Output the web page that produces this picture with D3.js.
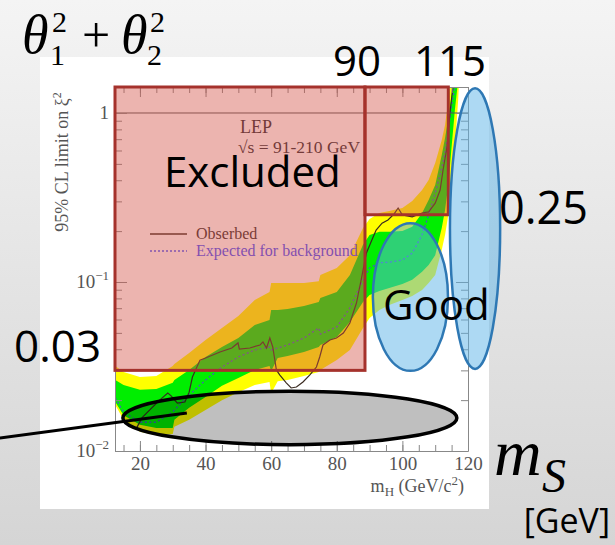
<!DOCTYPE html>
<html>
<head>
<meta charset="utf-8">
<script src="https://cdn.jsdelivr.net/npm/d3@7"></script>
<style>
body{margin:0;}
svg{display:block;}
</style>
</head>
<body>
<svg width="615" height="545"></svg>
<script>
// mass grid of the expected bands (GeV/c2)
var mass      = [12.5, 15, 20, 25, 30, 30.5, 35, 40, 45, 50, 55, 59.5, 60, 62, 65, 70, 74.5, 75, 80, 84, 88, 90, 93, 96, 100, 103, 106, 108, 110, 112, 113, 114, 115, 116, 117, 118];
// 95% CL limits on xi^2
var yellowHi  = [0.0318, 0.0293, 0.0274, 0.0278, 0.0318, 0.0327, 0.0380, 0.0454, 0.0535, 0.0629, 0.0782, 0.0873, 0.0986, 0.0986, 0.0986, 0.0986, 0.101, 0.110, 0.121, 0.144, 0.209, 0.236, 0.256, 0.263, 0.274, 0.301, 0.350, 0.401, 0.506, 0.692, 0.849, 1.19, 2.0, 2.5, 3, 3];
var greenHi   = [0.0263, 0.0246, 0.0230, 0.0233, 0.0253, 0.0263, 0.0301, 0.0360, 0.0412, 0.0466, 0.0557, 0.0596, 0.0683, 0.0683, 0.0692, 0.0721, 0.0762, 0.0804, 0.0873, 0.110, 0.166, 0.190, 0.198, 0.198, 0.200, 0.212, 0.256, 0.306, 0.375, 0.564, 0.711, 0.933, 1.279, 1.80, 2.5, 3];
var expected  = [0.0206, 0.0170, 0.0148, 0.0148, 0.0170, 0.0175, 0.0214, 0.0263, 0.0314, 0.0360, 0.0396, 0.0412, 0.0396, 0.0407, 0.0424, 0.0466, 0.0535, 0.0492, 0.0542, 0.0702, 0.103, 0.121, 0.130, 0.131, 0.135, 0.148, 0.190, 0.249, 0.336, 0.473, 0.580, 0.793, 1.114, 1.425, 2.5, 3];
var greenLo   = [0.0195, 0.0163, 0.0143, 0.0137, 0.0137, 0.0153, 0.0180, 0.0209, 0.0243, 0.0270, 0.0301, 0.0318, 0.0297, 0.0355, 0.0365, 0.0385, 0.0412, 0.0424, 0.0473, 0.0580, 0.0762, 0.0838, 0.0885, 0.0921, 0.0973, 0.103, 0.115, 0.126, 0.144, 0.209, 0.267, 0.375, 0.629, 1.04, 1.57, 3];
var yellowLo  = [0.0187, 0.0153, 0.0130, 0.0124, 0.0126, 0.0139, 0.0153, 0.0175, 0.0200, 0.0223, 0.0246, 0.0256, 0.0220, 0.0259, 0.0263, 0.0278, 0.0293, 0.0301, 0.0345, 0.0396, 0.0535, 0.0612, 0.0683, 0.0731, 0.0782, 0.0826, 0.0897, 0.0986, 0.110, 0.155, 0.190, 0.249, 0.401, 0.629, 1.19, 3];

// observed limit
var obsMass  = [19, 20.6, 23, 26, 28.5, 29.5, 31.4, 33.7, 35, 36, 38.3, 40, 44.4, 48, 49.9, 50.3, 53.5, 56.6, 57.5, 58.6, 59.6, 60.5, 61.6, 62.6, 64.6, 66.1, 67.7, 69.7, 71.8, 73.8, 74.8, 75.8, 77.9, 79.9, 82, 84, 86, 87.6, 89, 90.7, 92, 93.8, 95.6, 97.5, 98.7, 100, 103, 106, 108, 110, 111.5, 112.4, 113.6, 114.5, 115.4, 116];
var observed = [0.0137, 0.0157, 0.0175, 0.0200, 0.0220, 0.0212, 0.0192, 0.0195, 0.0223, 0.0274, 0.0345, 0.0355, 0.0385, 0.0407, 0.0436, 0.0401, 0.0407, 0.0424, 0.0442, 0.0407, 0.0466, 0.0412, 0.0301, 0.0282, 0.0253, 0.0236, 0.0239, 0.0256, 0.0282, 0.0314, 0.0360, 0.0424, 0.0454, 0.0466, 0.0499, 0.0572, 0.0751, 0.107, 0.148, 0.177, 0.203, 0.223, 0.233, 0.253, 0.274, 0.249, 0.243, 0.256, 0.260, 0.293, 0.350, 0.460, 0.629, 1.0, 1.425, 2.0];

// ticks
var xLabels = [20, 40, 60, 80, 100, 120];
var xMinor  = d3.range(15, 121, 5);
var yLabels = [1, 0.1, 0.01];
var yLabelText = [["1", ""], ["10", "\u22121"], ["10", "\u22122"]];

// excluded regions (from mass, to mass, limit)
var boxFrom  = [12.4, 88.6];
var boxTo    = [88.6, 114];
var boxLimit = [0.03, 0.25];

// annotation ellipses, given by their mass and xi^2 extents
var ellMassLo = [91, 114.5];
var ellMassHi = [113.9, 129.8];
var ellXiLo   = [0.0298, 0.0306];
var ellXiHi   = [0.223, 1.40];
var grayMass  = [14.8, 116.6];
var grayXi    = [0.0109, 0.0226];
var pointerMass = [-22.7, 34.3];
var pointerXi   = [0.01194, 0.0168];

var svg = d3.select('svg');

// slide background
var defs = svg.append('defs');
var grad = defs.append('linearGradient').attr('id', 'bg')
	.attr('x1', 0).attr('y1', 0).attr('x2', 0).attr('y2', 1);
grad.append('stop').attr('offset', '0%').attr('stop-color', '#f4f4f4');
grad.append('stop').attr('offset', '100%').attr('stop-color', '#d5d5d5');
svg.append('rect').attr('width', 615).attr('height', 545).attr('fill', 'url(#bg)');

// white picture of the plot
svg.append('rect').attr('x', 40).attr('y', 57).attr('width', 449).attr('height', 452).attr('fill', '#fff');

var x = d3.scaleLinear().domain([12.4, 120]).range([115, 468]);
var y = d3.scaleLog().domain([0.01, 1.425]).range([451, 87]);

defs.append('clipPath').attr('id', 'plotclip')
	.append('rect').attr('x', 115).attr('y', 87).attr('width', 353).attr('height', 364);

var plot = svg.append('g').attr('clip-path', 'url(#plotclip)');

function band(lo, hi){
	return d3.area()
		.x(function(d, i){ return x(mass[i]); })
		.y0(function(d, i){ return y(lo[i]); })
		.y1(function(d, i){ return y(hi[i]); });
}

plot.append('path').datum(mass).attr('d', band(yellowLo, yellowHi)).attr('fill', '#ffff00');
plot.append('path').datum(mass).attr('d', band(greenLo, greenHi)).attr('fill', '#00ee00');

plot.append('path').datum(mass)
	.attr('d', d3.line().x(function(d, i){ return x(mass[i]); }).y(function(d, i){ return y(expected[i]); }))
	.attr('fill', 'none').attr('stroke', '#4658c0').attr('stroke-width', 1.3)
	.attr('stroke-dasharray', '2,2.5');

plot.append('path').datum(obsMass)
	.attr('d', d3.line().x(function(d, i){ return x(obsMass[i]); }).y(function(d, i){ return y(observed[i]); }))
	.attr('fill', 'none').attr('stroke', '#3a2a20').attr('stroke-width', 1.2);

// xi^2 = 1 line
plot.append('line')
	.attr('x1', x(12.4)).attr('x2', x(120)).attr('y1', y(1)).attr('y2', y(1))
	.attr('stroke', '#555').attr('stroke-width', 1);

// axes
var yMinor = [];
[0.01, 0.1, 1].forEach(function(p){
	for (var k = 1; k < 10; k++){ if (p * k <= 1.425) yMinor.push(p * k); }
});

var axisColor = '#888';
svg.append('g').attr('transform', 'translate(0,451)').attr('color', axisColor)
	.call(d3.axisBottom(x).tickValues(xMinor).tickSize(-6).tickSizeOuter(0).tickFormat(''));
var bottom = svg.append('g').attr('transform', 'translate(0,451)').attr('color', axisColor)
	.call(d3.axisBottom(x).tickValues(xLabels).tickSize(-10).tickSizeOuter(0).tickPadding(6));
bottom.select('.domain').remove();
bottom.selectAll('text')
	.attr('font-family', 'Liberation Serif, serif').attr('font-size', 19).attr('fill', '#555');

svg.append('g').attr('transform', 'translate(0,87)').attr('color', axisColor)
	.call(d3.axisTop(x).tickValues(xMinor).tickSize(-6).tickSizeOuter(0).tickFormat(''));
svg.append('g').attr('transform', 'translate(0,87)').attr('color', axisColor)
	.call(d3.axisTop(x).tickValues(xLabels).tickSize(-10).tickSizeOuter(0).tickFormat(''))
	.select('.domain').remove();

svg.append('g').attr('transform', 'translate(115,0)').attr('color', axisColor)
	.call(d3.axisLeft(y).tickValues(yMinor).tickSize(-7).tickSizeOuter(0).tickFormat(''));
svg.append('g').attr('transform', 'translate(115,0)').attr('color', axisColor)
	.call(d3.axisLeft(y).tickValues(yLabels).tickSize(-12).tickSizeOuter(0).tickFormat(''))
	.select('.domain').remove();
svg.append('g').attr('transform', 'translate(468,0)').attr('color', axisColor)
	.call(d3.axisRight(y).tickValues(yMinor).tickSize(-7).tickSizeOuter(0).tickFormat(''));
svg.append('g').attr('transform', 'translate(468,0)').attr('color', axisColor)
	.call(d3.axisRight(y).tickValues(yLabels).tickSize(-12).tickSizeOuter(0).tickFormat(''))
	.select('.domain').remove();

// y tick labels 1, 10^-1, 10^-2
var ylab = svg.selectAll('.ylab').data(yLabels).enter().append('text')
	.attr('class', 'ylab')
	.attr('x', 109).attr('y', function(d){ return y(d) + 6; })
	.attr('text-anchor', 'end')
	.attr('font-family', 'Liberation Serif, serif').attr('font-size', 19).attr('fill', '#555');
ylab.append('tspan').text(function(d, i){ return yLabelText[i][0]; });
ylab.append('tspan').attr('dy', -8).attr('font-size', 13).text(function(d, i){ return yLabelText[i][1]; });

// axis titles
var xt = svg.append('text').attr('x', 464).attr('y', 492).attr('text-anchor', 'end')
	.attr('font-family', 'Liberation Serif, serif').attr('font-size', 18).attr('fill', '#555');
xt.append('tspan').text('m');
xt.append('tspan').attr('dy', 4).attr('font-size', 13).text('H');
xt.append('tspan').attr('dy', -4).text(' (GeV/c');
xt.append('tspan').attr('dy', -7).attr('font-size', 13).text('2');
xt.append('tspan').attr('dy', 7).text(')');

var yt = svg.append('text').attr('transform', 'translate(68,162) rotate(-90)').attr('text-anchor', 'middle')
	.attr('font-family', 'Liberation Serif, serif').attr('font-size', 18).attr('fill', '#555');
yt.append('tspan').text('95% CL limit on \u03be');
yt.append('tspan').attr('dy', -7).attr('font-size', 12).text('2');

// LEP label
svg.append('text').attr('x', 240).attr('y', 133)
	.attr('font-family', 'Liberation Serif, serif').attr('font-size', 18).attr('fill', '#2a2a30').text('LEP');
svg.append('text').attr('x', 238).attr('y', 153)
	.attr('font-family', 'Liberation Serif, serif').attr('font-size', 17.5).attr('fill', '#2a2a30').text('\u221as = 91-210 GeV');

// legend
svg.append('line').attr('x1', 150).attr('x2', 187).attr('y1', 234).attr('y2', 234)
	.attr('stroke', '#3a2a20').attr('stroke-width', 1.3);
svg.append('line').attr('x1', 150).attr('x2', 187).attr('y1', 251).attr('y2', 251)
	.attr('stroke', '#4658ff').attr('stroke-width', 1.3).attr('stroke-dasharray', '2,2');
svg.append('text').attr('x', 196).attr('y', 239)
	.attr('font-family', 'Liberation Serif, serif').attr('font-size', 16).attr('fill', '#332c2c').text('Obserbed');
svg.append('text').attr('x', 196).attr('y', 256)
	.attr('font-family', 'Liberation Serif, serif').attr('font-size', 16).attr('fill', '#4650ff').text('Expected for background');

// excluded boxes
svg.selectAll('.excl').data(boxFrom).enter().append('rect')
	.attr('class', 'excl')
	.attr('x', function(d){ return x(d); })
	.attr('y', y(1.425))
	.attr('width', function(d, i){ return x(boxTo[i]) - x(d); })
	.attr('height', function(d, i){ return y(boxLimit[i]) - y(1.425); })
	.attr('fill', 'rgb(211,81,70)').attr('fill-opacity', 0.43)
	.attr('stroke', '#a5322c').attr('stroke-width', 3);

// "good" ellipses
svg.selectAll('.good').data(ellMassLo).enter().append('ellipse')
	.attr('class', 'good')
	.attr('cx', function(d, i){ return (x(d) + x(ellMassHi[i])) / 2; })
	.attr('cy', function(d, i){ return (y(ellXiLo[i]) + y(ellXiHi[i])) / 2; })
	.attr('rx', function(d, i){ return (x(ellMassHi[i]) - x(d)) / 2; })
	.attr('ry', function(d, i){ return (y(ellXiLo[i]) - y(ellXiHi[i])) / 2; })
	.attr('fill', 'rgb(92,180,232)').attr('fill-opacity', 0.5)
	.attr('stroke', '#2e78b4').attr('stroke-width', 2.5);

// gray ellipse and pointer
svg.append('ellipse')
	.attr('cx', (x(grayMass[0]) + x(grayMass[1])) / 2)
	.attr('cy', (y(grayXi[0]) + y(grayXi[1])) / 2)
	.attr('rx', (x(grayMass[1]) - x(grayMass[0])) / 2)
	.attr('ry', (y(grayXi[0]) - y(grayXi[1])) / 2)
	.attr('fill', '#000').attr('fill-opacity', 0.25)
	.attr('stroke', '#000').attr('stroke-width', 3.5);
svg.append('line')
	.attr('x1', x(pointerMass[0])).attr('y1', y(pointerXi[0]))
	.attr('x2', x(pointerMass[1])).attr('y2', y(pointerXi[1]))
	.attr('stroke', '#000').attr('stroke-width', 3);

// slide annotations
var sans = 'Open Sans, sans-serif';
function label(t, px, py, size, anchor){
	return svg.append('text').attr('x', px).attr('y', py)
		.attr('font-family', sans).attr('font-size', size)
		.attr('text-anchor', anchor || 'start').attr('fill', '#000').text(t);
}
label('Excluded', 164, 187, 42);
label('Good', 383, 320, 42);
label('0.25', 499, 224, 45);
label('0.03', 14, 362, 44);
label('90', 333, 76, 42);
label('115', 414, 76, 42);
label('[GeV]', 610, 533, 34, 'end');

var serif = 'Liberation Serif, serif';
function math(t, px, py, size, italic){
	return svg.append('text').attr('x', px).attr('y', py)
		.attr('font-family', serif).attr('font-size', size)
		.attr('font-style', italic ? 'italic' : 'normal').attr('fill', '#000').text(t);
}
math('m', 494, 475, 66, true);
math('S', 542, 492, 48, true);
math('\u03b8', 22, 53, 54, true);
math('1', 50, 65, 30);
math('2', 52, 32, 30);
math('+', 82, 52, 50);
math('\u03b8', 121, 53, 54, true);
math('2', 150, 32, 30);
math('2', 147, 65, 30);
</script>
</body>
</html>
